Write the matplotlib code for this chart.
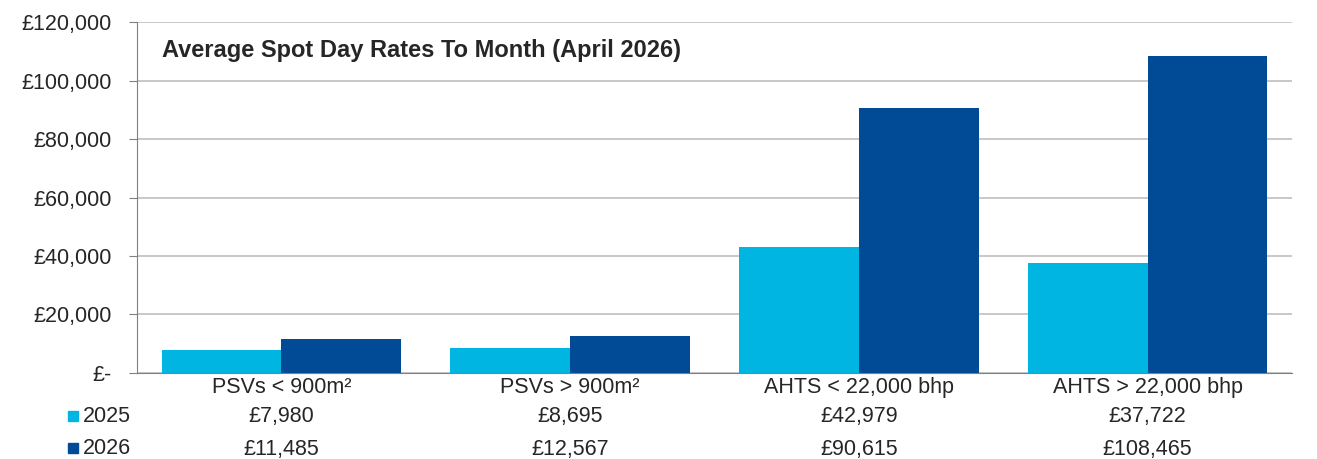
import matplotlib.pyplot as plt
from matplotlib.patches import Rectangle
import numpy as np

plt.rcParams['font.family'] = ['Liberation Sans', 'DejaVu Sans']

categories = ["PSVs < 900m²", "PSVs > 900m²", "AHTS < 22,000 bhp", "AHTS > 22,000 bhp"]
series_names = ["2025", "2026"]
rates_2025 = [7980, 8695, 42979, 37722]
rates_2026 = [11485, 12567, 90615, 108465]
yticks = [0, 20000, 40000, 60000, 80000, 100000, 120000]
ytick_labels = ["£-", "£20,000", "£40,000", "£60,000", "£80,000", "£100,000", "£120,000"]

light = "#00B5E2"
dark = "#004A96"
txt = "#262626"
fs = 15.5

fig = plt.figure(figsize=(13.17, 4.59), dpi=100)
ax = fig.add_axes([0.104, 0.1874, 0.877, 0.7646])

x = np.arange(len(categories))
w = 0.415
ax.bar(x - w / 2, rates_2025, w, color=light, zorder=3)
ax.bar(x + w / 2, rates_2026, w, color=dark, zorder=3)

ax.set_xlim(-0.5, 3.5)
ax.set_ylim(0, 120000)
ax.set_yticks(yticks)
ax.set_yticklabels(ytick_labels)
ax.yaxis.grid(True, color="#BFBFBF", linewidth=1.2, zorder=0)
ax.set_axisbelow(True)
for s in ["top", "right"]:
    ax.spines[s].set_visible(False)
ax.spines["left"].set_color("#808080")
ax.spines["bottom"].set_color("#808080")
ax.tick_params(axis="y", length=6, color="#808080", pad=12, labelsize=fs, labelcolor=txt)
ax.set_xticks(x)
ax.set_xticklabels(categories)
ax.tick_params(axis="x", length=0, pad=3, labelsize=fs, labelcolor=txt)

ax.text(0.022, 0.918, "Average Spot Day Rates To Month (April 2026)", transform=ax.transAxes,
        fontsize=17, fontweight="bold", color=txt, va="center", ha="left")

# data table under the chart
tr = ax.get_xaxis_transform()
for i in range(len(categories)):
    ax.text(x[i], -0.125, "£{:,}".format(rates_2025[i]), transform=tr, ha="center", va="center",
            fontsize=fs, color=txt)
    ax.text(x[i], -0.217, "£{:,}".format(rates_2026[i]), transform=tr, ha="center", va="center",
            fontsize=fs, color=txt)

row_y = [1 - 416 / 459, 1 - 448 / 459]
for name, col, yy in zip(series_names, [light, dark], row_y):
    fig.patches.append(Rectangle((68 / 1317, yy - 5 / 459), 10 / 1317, 10 / 459,
                                 transform=fig.transFigure, color=col))
    fig.text(83 / 1317, yy, name, fontsize=fs, color=txt, va="center", ha="left")

plt.savefig("out.png", dpi=100)
